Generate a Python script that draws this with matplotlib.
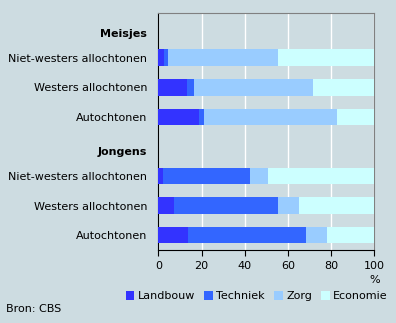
import matplotlib.pyplot as plt
import matplotlib.transforms as mtransforms
from matplotlib.patches import Patch

# Rows from top to bottom; None marks a group header row
rows = ["Meisjes", "Niet-westers allochtonen", "Westers allochtonen", "Autochtonen",
        "Jongens", "Niet-westers allochtonen", "Westers allochtonen", "Autochtonen"]
headers = ["Meisjes", "Jongens"]

landbouw = [None, 2.6, 13.3, 18.9, None, 2.0, 7.3, 13.7]
techniek = [None, 1.9, 3.3, 2.3, None, 40.4, 48.1, 54.6]
zorg = [None, 50.9, 55.0, 61.5, None, 8.4, 9.7, 9.7]
economie = [None, 44.6, 28.4, 17.3, None, 49.2, 34.9, 22.0]

series = [("Landbouw", landbouw, "#3333ff"),
          ("Techniek", techniek, "#3366ff"),
          ("Zorg", zorg, "#99ccff"),
          ("Economie", economie, "#ccffff")]

bg = "#cddce1"
plt.rcParams["font.family"] = "DejaVu Sans"
plt.rcParams["font.size"] = 8

fig = plt.figure(figsize=(3.96, 3.23), dpi=100, facecolor=bg)
ax = fig.add_axes([0.4, 0.226, 0.545, 0.733], facecolor=bg)

ypos = list(range(len(rows)))
left = [0.0] * len(rows)
for name, vals, color in series:
    for i, v in enumerate(vals):
        if v is None:
            continue
        ax.barh(ypos[i], v, left=left[i], height=0.56, color=color, zorder=3)
        left[i] += v

ax.set_xlim(0, 100)
ax.set_ylim(len(rows) - 0.5, -0.5)
ax.set_xticks([0, 20, 40, 60, 80, 100])
ax.set_yticks(ypos)
ax.set_yticklabels(["" if r in headers else r for r in rows])

# group headers in bold, sitting a little lower than the row centre
hdr_trans = (mtransforms.blended_transform_factory(ax.transAxes, ax.transData)
             + mtransforms.ScaledTranslation(-8 / 72, -4 / 72, fig.dpi_scale_trans))
for i, r in enumerate(rows):
    if r in headers:
        ax.text(0, ypos[i], r, transform=hdr_trans, ha="right", va="center",
                fontweight="bold")

ax.tick_params(axis="y", length=0, pad=8)
ax.tick_params(axis="x", length=4, direction="out", pad=4)
ax.grid(axis="x", color="white", linewidth=1, zorder=1)

for side in ["top", "right"]:
    ax.spines[side].set_color("#808080")
ax.spines["left"].set_color("black")
ax.spines["bottom"].set_color("black")

fig.text(0.945, 0.133, "%", ha="center", va="center")
fig.text(0.015, 0.043, "Bron: CBS", ha="left", va="center")

handles = [Patch(facecolor=c, label=n) for n, _, c in series]
fig.legend(handles=handles, loc="center", bbox_to_anchor=(0.648, 0.083), ncol=4,
           frameon=False, handlelength=0.8, handleheight=0.8, handletextpad=0.3,
           columnspacing=0.8, borderpad=0)

fig.savefig("out.png", dpi=100, facecolor=bg)
